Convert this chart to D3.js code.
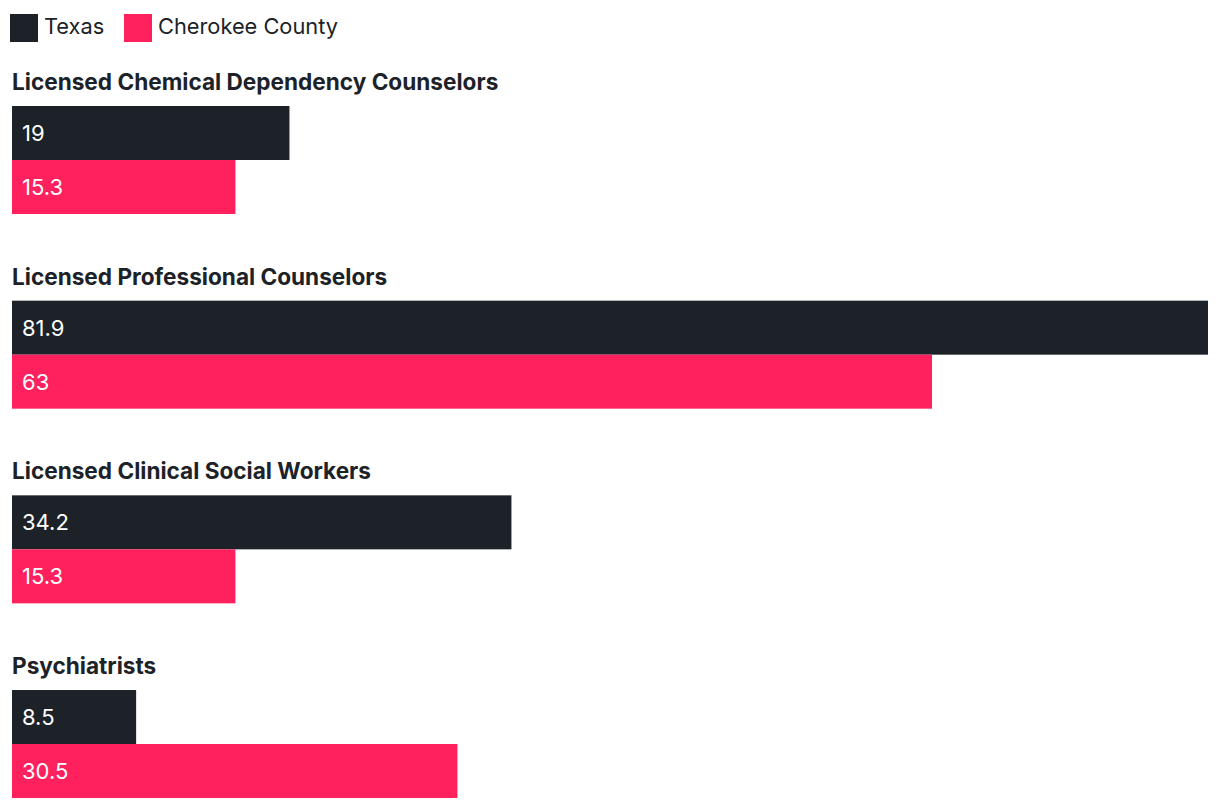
<!DOCTYPE html>
<html>
<head>
<meta charset="utf-8">
<script src="https://cdn.jsdelivr.net/npm/d3@7"></script>
<style>
  html, body { margin: 0; padding: 0; background: #fff; }
  svg { display: block; font-family: Inter, "Noto Sans", sans-serif; }
</style>
</head>
<body>
<svg id="chart" width="1220" height="808"></svg>
<script>
const categories = [
  "Licensed Chemical Dependency Counselors",
  "Licensed Professional Counselors",
  "Licensed Clinical Social Workers",
  "Psychiatrists"
];
const seriesNames = ["Texas", "Cherokee County"];
const texasValues = [19, 81.9, 34.2, 8.5];
const cherokeeValues = [15.3, 63, 15.3, 30.5];
const seriesColors = ["#1c2227", "#ff215d"];

const svg = d3.select("#chart");

const x = d3.scaleLinear().domain([0, d3.max(texasValues.concat(cherokeeValues))]).range([12, 1208]);
const groupY = d3.scaleBand().domain(categories).range([106, 106 + 4 * 194.67]).paddingInner(0).paddingOuter(0);
const barH = 54;
const inner = d3.scaleBand().domain(seriesNames).range([0, barH * 2]);

// Legend
const legend = svg.append("g");
const legendX = [10, 124];
seriesNames.forEach((name, i) => {
  const g = legend.append("g").attr("transform", `translate(${legendX[i]},14)`);
  g.append("rect").attr("width", 28).attr("height", 28).attr("fill", seriesColors[i]);
  g.append("text").attr("x", 34).attr("y", 20).attr("font-size", 21.8).attr("fill", "#1c2227").text(name);
});

const data = categories.map((c, i) => ({ cat: c, vals: [texasValues[i], cherokeeValues[i]] }));

const groups = svg.selectAll("g.group").data(data).enter().append("g")
  .attr("class", "group")
  .attr("transform", d => `translate(0,${groupY(d.cat)})`);

groups.append("text")
  .attr("x", 12).attr("y", -16)
  .attr("font-size", 22.6).attr("font-weight", 700).attr("fill", "#1c2227")
  .text(d => d.cat);

groups.each(function(d) {
  const g = d3.select(this);
  d.vals.forEach((v, i) => {
    const y0 = inner(seriesNames[i]);
    g.append("rect")
      .attr("x", x(0)).attr("y", y0)
      .attr("width", x(v) - x(0)).attr("height", inner.bandwidth())
      .attr("fill", seriesColors[i]);
    g.append("text")
      .attr("x", x(0) + 10).attr("y", y0 + inner.bandwidth() / 2 + 8)
      .attr("font-size", 22).attr("fill", "#ffffff")
      .text(v);
  });
});
</script>
</body>
</html>
